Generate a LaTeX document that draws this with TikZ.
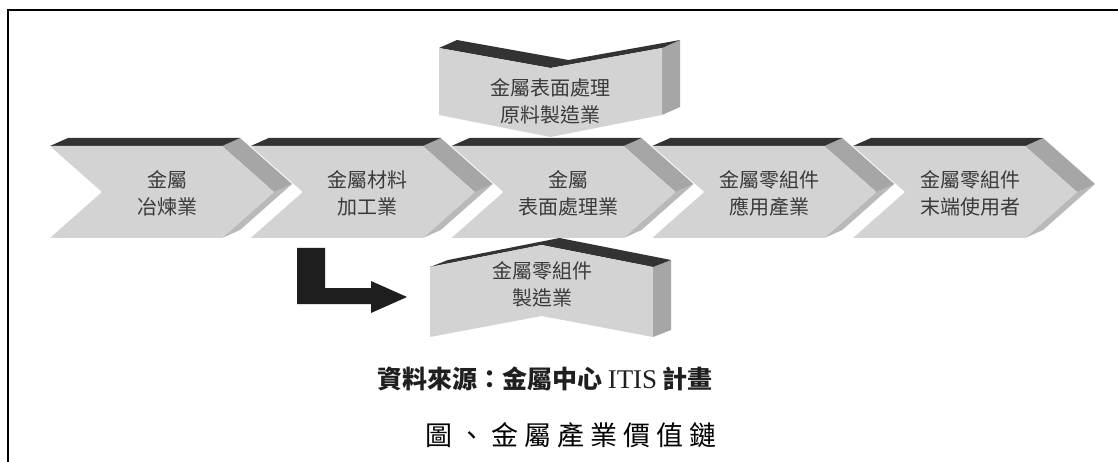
\documentclass[tikz,border=0pt]{standalone}
\usepackage{fontspec}
\newfontfamily\cjk{Noto Sans CJK TC}
\newfontfamily\tms{Liberation Serif}
\definecolor{frontc}{HTML}{D3D3D3}
\definecolor{bandc}{HTML}{333333}
\definecolor{sidec}{HTML}{A6A6A6}
\definecolor{sideb}{HTML}{B9B9B9}
\definecolor{txtc}{HTML}{3A3A3A}
\definecolor{arrc}{HTML}{1E1E1E}
\tikzset{
  front/.style={fill=frontc},
  band/.style={fill=bandc},
  sidea/.style={fill=sidec},
  sideb/.style={fill=sideb},
  lbl/.style={inner sep=0pt, align=center, text=txtc, font=\cjk\fontsize{20}{27}\selectfont},
}
\newcommand{\hchev}[3]{%
  \begin{scope}[shift={(#1,0)}]
    \fill[sideb] (172,238) -- (224,192) -- (242,184) -- (190,230) -- cycle;
    \fill[sidea] (172,146) -- (190,138) -- (242,184) -- (224,192) -- cycle;
    \fill[band] (0,146) -- (18,138) -- (190,138) -- (172,146) -- cycle;
    \fill[front] (0,146) -- (172,146) -- (224,192) -- (172,238) -- (0,238) -- (52,192) -- cycle;
    \node[lbl] (#2) at (117,193) {#3};
  \end{scope}}
\begin{document}
\begin{tikzpicture}[x=1pt,y=-1pt]
\useasboundingbox (0,0) rectangle (1118,462);
\fill[white] (0,0) rectangle (1118,462);
% frame
\draw[line width=2.5pt] (8,462) -- (8,10) -- (1118,10);
% chevron row
\hchev{50}{c1}{金屬\\冶煉業}
\hchev{250.75}{c2}{金屬材料\\加工業}
\hchev{451.5}{c3}{金屬\\表面處理業}
\hchev{652.25}{c4}{金屬零組件\\應用產業}
\hchev{853}{c5}{金屬零組件\\末端使用者}
% top box
\fill[sidea] (662,48) -- (680,40) -- (680,107) -- (662,115) -- cycle;
\fill[band] (439,48) -- (457,40) -- (568.5,60) -- (680,40) -- (662,48) -- (550.5,68) -- cycle;
\fill[front] (439,48) -- (550.5,68) -- (662,48) -- (662,115) -- (550.5,137) -- (439,115) -- cycle;
\node[lbl] (top) at (550,101) {金屬表面處理\\原料製造業};
% bottom box
\fill[sidea] (653,267) -- (671,260) -- (671,330) -- (653,337) -- cycle;
\fill[band] (430,267) -- (448,260) -- (559.5,238) -- (671,260) -- (653,267) -- (541.5,245) -- cycle;
\fill[front] (430,267) -- (541.5,245) -- (653,267) -- (653,337) -- (541.5,316) -- (430,337) -- cycle;
\node[lbl] (bot) at (542,284) {金屬零組件\\製造業};
% L arrow
\fill[arrc] (297,248) -- (325,248) -- (325,288) -- (371,288) -- (371,281) -- (407,297) -- (371,313) -- (371,304) -- (297,304) -- cycle;
% source and title
\node[inner sep=0pt, text=black!88] (src) at (545,379) {\cjk\bfseries\fontsize{25}{30}\selectfont 資料來源：金屬中心 {\tms\mdseries\fontsize{27}{30}\selectfont ITIS} 計畫};
\node[inner sep=0pt] (title) at (571,435) {\cjk\fontsize{27}{32}\selectfont 圖\kern6pt 、\kern6pt 金\kern6pt 屬\kern6pt 產\kern6pt 業\kern6pt 價\kern6pt 值\kern6pt 鏈};
\end{tikzpicture}
\end{document}
